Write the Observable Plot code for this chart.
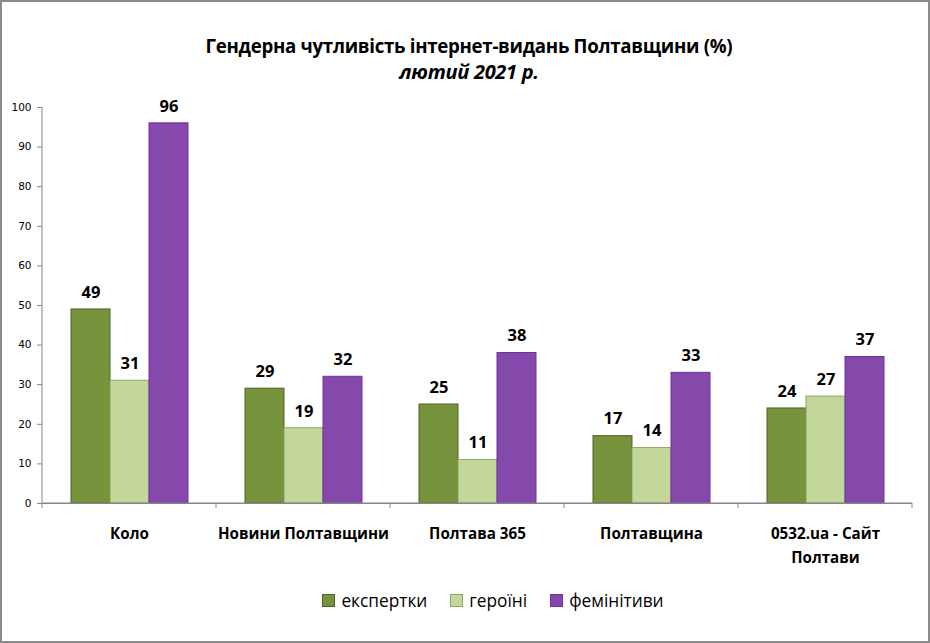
<!DOCTYPE html>
<html>
<head>
<meta charset="utf-8">
<script src="https://cdn.jsdelivr.net/npm/d3@7"></script>
<script src="https://cdn.jsdelivr.net/npm/@observablehq/plot@0.6"></script>
<style>
  html, body { margin: 0; padding: 0; background: #fff; }
  #wrap { position: relative; width: 930px; height: 643px; overflow: hidden; background: #fff; }
  #border { position: absolute; left: 0; top: 0; width: 930px; height: 643px; box-sizing: border-box; border: 2px solid #8a8a8a; pointer-events: none; }
  #title { position: absolute; left: 4px; top: 32px; width: 930px; text-align: center; font-family: "Open Sans", sans-serif; font-weight: 700; color: #000; }
  #title .t1 { font-size: 18.7px; line-height: 28px; letter-spacing: -0.3px; }
  #title .t2 { font-size: 20px; line-height: 24px; font-style: italic; letter-spacing: -0.3px; }
  #chart { position: absolute; left: 0; top: 90px; }
  #legend { position: absolute; left: 0; top: 589px; width: 874px; padding-left: 56px; display: flex; justify-content: center; font-family: "Open Sans", sans-serif; font-size: 17.3px; color: #000; }
  .item { display: flex; align-items: center; margin: 0 11.5px; }
  .sw { width: 11px; height: 11px; border: 1px solid; margin-right: 6px; }
</style>
</head>
<body>
<div id="wrap">
  <div id="title"><div class="t1">Гендерна чутливість інтернет-видань Полтавщини (%)</div><div class="t2">лютий 2021 р.</div></div>
  <div id="chart"></div>
  <div id="legend"></div>
  <div id="border"></div>
</div>
<script>
const categories = ["Коло", "Новини Полтавщини", "Полтава 365", "Полтавщина", "0532.ua - Сайт Полтави"];
const categoryLabels = ["Коло", "Новини Полтавщини", "Полтава 365", "Полтавщина", "0532.ua - Сайт\nПолтави"];
const series = ["експертки", "героїні", "фемінітиви"];
const experts = [49, 29, 25, 17, 24];
const heroines = [31, 19, 11, 14, 27];
const feminitives = [96, 32, 38, 33, 37];
const yTicks = [0, 10, 20, 30, 40, 50, 60, 70, 80, 90, 100];

const fills = ["#77933C", "#C3D69B", "#8549AC"];
const strokes = ["#4F6228", "#8EA85A", "#7030A0"];

const valuesBySeries = [experts, heroines, feminitives];
const data = [];
series.forEach((s, si) => categories.forEach((c, ci) => data.push({category: c, series: s, value: valuesBySeries[si][ci]})));

const labelOf = new Map(categories.map((c, i) => [c, categoryLabels[i]]));
const axisGray = "#868686";

const plot = Plot.plot({
  width: 930,
  height: 480,
  marginTop: 17,
  marginBottom: 67,
  marginLeft: 41,
  marginRight: 18,
  style: {background: "transparent", color: "#000"},
  fx: {domain: categories, padding: 0, axis: null, label: null},
  x: {domain: series, paddingInner: 0, paddingOuter: 0.73, axis: null, label: null},
  y: {domain: [0, 100], axis: null, label: null},
  marks: [
    Plot.axisY({ticks: yTicks, label: null, tickSize: 5, tickPadding: 6, stroke: axisGray, fontFamily: "DejaVu Sans", fontSize: 10.5, fill: "#000"}),
    Plot.axisFx({anchor: "bottom", label: null, tickSize: 0, tickPadding: 19, lineHeight: 1.55, tickFormat: d => labelOf.get(d), fontFamily: "Open Sans", fontSize: 15.2, fontWeight: 700, fill: "#000"}),
    ...series.map((s, si) => Plot.barY(data.filter(d => d.series === s), {
      fx: "category", x: "series", y: "value", fill: fills[si], stroke: strokes[si], strokeWidth: 1, inset: 0
    })),
    Plot.text(data, {fx: "category", x: "series", y: "value", text: d => String(d.value), dy: -17, fontFamily: "Open Sans", fontSize: 16.5, fontWeight: 700, fill: "#000"}),
    Plot.ruleY([0], {stroke: axisGray, strokeWidth: 1})
  ]
});

document.getElementById("chart").appendChild(plot);

// y-axis line and category boundary ticks, positioned through Plot's own scales
const svg = d3.select(plot);
const fx = plot.scale("fx");
const y = plot.scale("y");
const y0 = y.apply(0), y100 = y.apply(100);
const step = fx.step !== undefined ? fx.step : fx.bandwidth;
const bounds = categories.map(c => fx.apply(c)).concat([fx.apply(categories[categories.length - 1]) + step]);
const x0 = bounds[0];
svg.append("line").attr("x1", x0).attr("x2", x0).attr("y1", y100).attr("y2", y0).attr("stroke", axisGray);
svg.append("line").attr("x1", x0).attr("x2", bounds[bounds.length - 1]).attr("y1", y0).attr("y2", y0).attr("stroke", axisGray);
svg.selectAll("line.bt").data(bounds).join("line").attr("class", "bt")
  .attr("x1", d => d).attr("x2", d => d).attr("y1", y0).attr("y2", y0 + 5).attr("stroke", axisGray);

const legend = d3.select("#legend");
series.forEach((s, i) => {
  const it = legend.append("div").attr("class", "item");
  it.append("div").attr("class", "sw").style("background", fills[i]).style("border-color", strokes[i]);
  it.append("span").text(s);
});
</script>
</body>
</html>
